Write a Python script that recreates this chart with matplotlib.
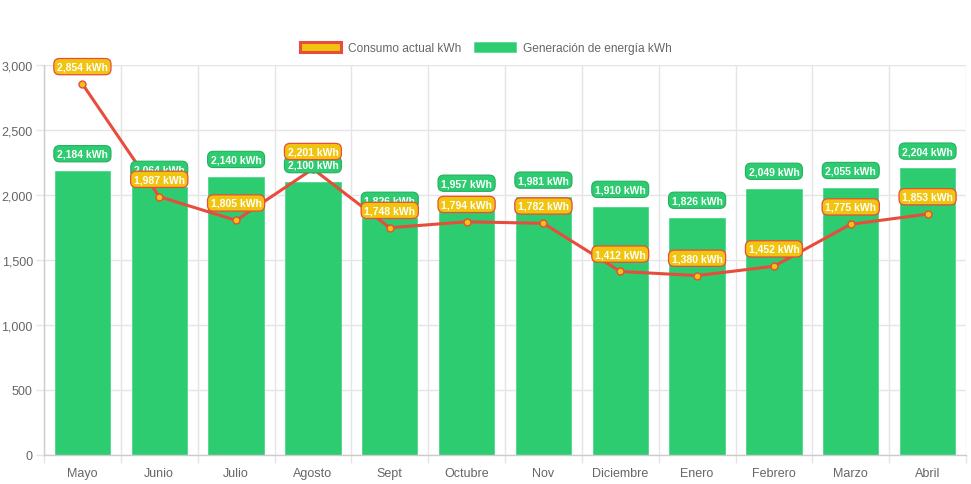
import matplotlib
matplotlib.use("Agg")
import matplotlib.pyplot as plt
from matplotlib.patches import Rectangle
from matplotlib.ticker import FuncFormatter, FixedLocator
import numpy as np

plt.rcParams['font.family'] = ['Liberation Sans', 'DejaVu Sans']

months = ["Mayo", "Junio", "Julio", "Agosto", "Sept", "Octubre", "Nov",
          "Diciembre", "Enero", "Febrero", "Marzo", "Abril"]
consumo = [2854, 1987, 1805, 2201, 1748, 1794, 1782, 1412, 1380, 1452, 1775, 1853]
generacion = [2184, 2064, 2140, 2100, 1826, 1957, 1981, 1910, 1826, 2049, 2055, 2204]

GREEN = "#2ecc71"
GREEN_DARK = "#27ae60"
YELLOW = "#f1c40f"
RED = "#e74c3c"
GRID = "#e5e5e5"
TXT = "#666666"

W, H = 971, 485
fig = plt.figure(figsize=(W / 100, H / 100), dpi=100)
ax = fig.add_axes([44 / W, 29 / H, (966 - 44) / W, (456 - 66) / H])

x = np.arange(len(months))
ax.bar(x, generacion, width=0.72, color=GREEN, edgecolor="#4ad98a", linewidth=0.6, zorder=2)
ax.plot(x, consumo, color=RED, linewidth=2.2, zorder=3,
        marker="o", markersize=5, markerfacecolor=YELLOW, markeredgecolor=RED,
        markeredgewidth=1.0)

ax.set_xlim(-0.5, len(months) - 0.5)
ax.set_ylim(0, 3000)

# grid and ticks
ax.yaxis.set_major_locator(FixedLocator(np.arange(0, 3001, 500)))
ax.yaxis.set_major_formatter(FuncFormatter(lambda v, p: f"{int(v):,}"))
ax.set_xticks(x)
ax.set_xticklabels(months)
ax.set_xticks(np.arange(-0.5, len(months), 1), minor=True)
ax.tick_params(axis="x", which="major", length=0, pad=8.5, labelsize=9, labelcolor=TXT)
ax.tick_params(axis="x", which="minor", length=5.8, color=GRID, width=1)
ax.tick_params(axis="y", which="major", length=5.8, color=GRID, width=1, pad=2.2,
               labelsize=9, labelcolor=TXT)
ax.grid(True, axis="y", which="major", color=GRID, linewidth=1, zorder=0)
ax.grid(True, axis="x", which="minor", color=GRID, linewidth=1, zorder=0)
ax.set_axisbelow(True)
for s in ["top", "right"]:
    ax.spines[s].set_visible(False)
for s in ["left", "bottom"]:
    ax.spines[s].set_color("#cccccc")
    ax.spines[s].set_linewidth(1)

# data labels
for xi, v in zip(x, generacion):
    ax.annotate(f"{v:,} kWh", (xi, v), xytext=(0, 12.5), textcoords="offset points",
                ha="center", va="center", fontsize=7.5, fontweight="bold", color="white",
                zorder=5,
                bbox=dict(boxstyle="round,pad=0.3,rounding_size=0.55", fc=GREEN,
                          ec=GREEN_DARK, lw=0.8))
for xi, v in zip(x, consumo):
    ax.annotate(f"{v:,} kWh", (xi, v), xytext=(0, 12.5), textcoords="offset points",
                ha="center", va="center", fontsize=7.5, fontweight="bold", color="white",
                zorder=6,
                bbox=dict(boxstyle="round,pad=0.3,rounding_size=0.55", fc=YELLOW,
                          ec=RED, lw=0.9))

# legend
h1 = Rectangle((0, 0), 1, 1, fc=YELLOW, ec=RED, lw=2.2)
h2 = Rectangle((0, 0), 1, 1, fc=GREEN, ec="#4ad98a", lw=0.5)
leg = fig.legend([h1, h2], ["Consumo actual kWh", "Generación de energía kWh"],
                 loc="center", bbox_to_anchor=(0.5, 1 - 49 / H), ncol=2, frameon=False,
                 fontsize=8.6, handlelength=3.5, handleheight=1.0, handletextpad=0.55,
                 columnspacing=1.1, labelcolor=TXT)

fig.savefig("out.png", dpi=100)
